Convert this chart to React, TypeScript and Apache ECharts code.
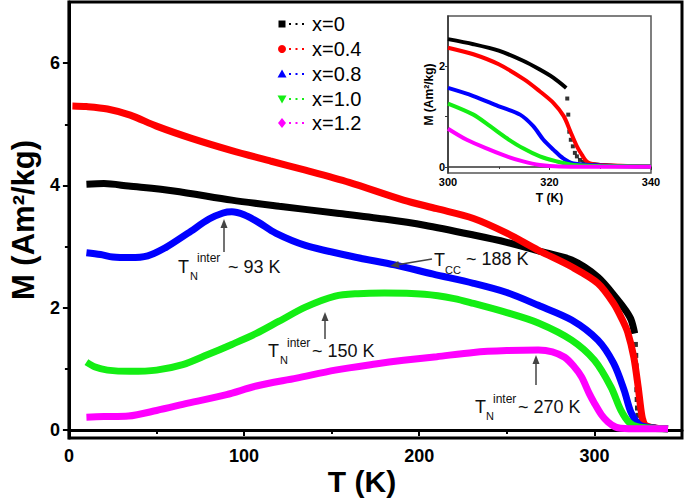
import React, { useEffect, useRef } from 'react';
import * as echarts from 'echarts';

const seriesNames = ['x=0', 'x=0.4', 'x=0.8', 'x=1.0', 'x=1.2'];
const seriesColors = ['#000000', '#ff0000', '#0000ff', '#14ee14', '#ff00ff'];

// Main panel tick values
const mainXTicks = [0, 100, 200, 300];
const mainXMinor = [50, 150, 250];
const mainYTicks = [0, 2, 4, 6];
const mainYMinor = [1, 3, 5];
const insetYTicks = [0, 2];
const insetYAllTicks = [0, 1, 2];

// Main panel data: [T (K), M (Am2/kg)]
const mainBlack = [[10, 4.02], [20, 4.03], [34, 3.99], [60, 3.91], [93, 3.76], [120, 3.66], [152, 3.55], [180, 3.45], [203, 3.35], [231, 3.19], [250, 3.07], [268, 2.93], [287, 2.78], [302, 2.5], [313, 2.14], [318, 1.95], [321, 1.8], [323, 1.58]];
const mainBlackDrop = [[323.4, 1.4], [323.6, 1.22], [323.8, 1.05], [324, 0.86], [324.2, 0.66], [324.4, 0.5], [324.6, 0.36], [324.8, 0.24], [325.2, 0.14], [325.8, 0.09]];
const mainBlackTail = [[326.5, 0.07], [330, 0.05], [335, 0.03], [342, 0.02]];
const mainRed = [[2, 5.3], [10, 5.29], [22, 5.25], [35, 5.15], [50, 4.97], [70, 4.77], [93, 4.57], [115, 4.4], [135, 4.25], [160, 4.05], [191, 3.76], [210, 3.62], [231, 3.46], [250, 3.22], [268, 2.94], [287, 2.67], [302, 2.4], [311, 2.07], [316, 1.8], [319, 1.6], [322.5, 1.19], [325, 0.7], [326.5, 0.35], [327.5, 0.18], [329, 0.08], [333, 0.04], [342, 0.02]];
const mainBlue = [[10, 2.9], [18, 2.87], [25, 2.83], [35, 2.82], [45, 2.85], [55, 2.98], [68, 3.22], [80, 3.45], [88, 3.55], [93, 3.57], [100, 3.52], [108, 3.4], [118, 3.22], [135, 3.02], [163, 2.83], [186, 2.7], [208, 2.55], [231, 2.4], [250, 2.25], [268, 2.04], [287, 1.8], [302, 1.47], [311, 1.09], [317, 0.65], [321, 0.28], [326, 0.08], [332, 0.04], [342, 0.02]];
const mainGreen = [[10, 1.11], [15, 1.03], [22, 0.98], [35, 0.96], [50, 0.98], [65, 1.07], [79, 1.23], [93, 1.4], [107, 1.58], [120, 1.78], [135, 2.01], [152, 2.19], [165, 2.23], [180, 2.24], [203, 2.22], [220, 2.15], [231, 2.07], [250, 1.92], [268, 1.75], [287, 1.47], [300, 1.14], [309.5, 0.7], [315, 0.33], [320, 0.12], [325, 0.05], [333, 0.03], [342, 0.02]];
const mainMagenta = [[10, 0.21], [20, 0.22], [34, 0.23], [50, 0.32], [68, 0.44], [90, 0.58], [107, 0.72], [130, 0.85], [152, 0.98], [175, 1.08], [191, 1.14], [210, 1.2], [231, 1.27], [250, 1.3], [268, 1.31], [276, 1.28], [283, 1.19], [288, 1.05], [292.6, 0.87], [297, 0.6], [300, 0.44], [304, 0.25], [307.8, 0.13], [312, 0.05], [315, 0.03], [325, 0.02], [342, 0.02]];

// Inset data (300-340 K)
const insetBlack = [[300, 2.54], [305, 2.44], [310, 2.31], [314.8, 2.11], [318, 1.94], [320.8, 1.77], [323.3, 1.57]];
const insetBlackDrop = [[323.5, 1.36], [323.7, 1.04], [323.9, 0.7], [324.2, 0.54], [324.6, 0.41], [325, 0.28], [325.4, 0.21], [326, 0.14], [326.7, 0.1]];
const insetBlackTail = [[327.2, 0.08], [330, 0.05], [335, 0.02], [340, 0.01]];
const insetRed = [[300, 2.37], [305, 2.24], [310, 2.04], [315, 1.74], [318, 1.51], [320.8, 1.27], [322.8, 1.01], [324.1, 0.71], [325.4, 0.41], [326.4, 0.24], [327.2, 0.12], [328, 0.07], [330, 0.04], [340, 0.01]];
const insetBlue = [[300, 1.57], [305, 1.41], [309.9, 1.21], [314.2, 1.04], [316.8, 0.81], [318.8, 0.54], [320.8, 0.34], [322.7, 0.17], [324.7, 0.07], [330, 0.03], [340, 0.01]];
const insetGreen = [[300, 1.26], [305, 1.04], [308.3, 0.81], [311.6, 0.57], [314.8, 0.37], [318.1, 0.21], [321.4, 0.11], [324.7, 0.04], [330, 0.02], [340, 0.01]];
const insetMagenta = [[300, 0.76], [303.7, 0.54], [308.3, 0.34], [311.6, 0.21], [314.8, 0.11], [318.1, 0.04], [322, 0.01], [330, 0.005], [340, 0.005]];

const mainData = [mainBlack, mainRed, mainBlue, mainGreen, mainMagenta];
const insetData = [insetBlack, insetRed, insetBlue, insetGreen, insetMagenta];

const FONT = '"Liberation Sans", Arial, sans-serif';

function arrow(x1: number, y1: number, x2: number, y2: number) {
  const dx = x2 - x1, dy = y2 - y1;
  const L = Math.hypot(dx, dy);
  const ux = dx / L, uy = dy / L;
  const hl = 9, hw = 3.5;
  const bx = x2 - ux * hl, by = y2 - uy * hl;
  const px = -uy, py = ux;
  return [
    { type: 'line', z: 100, shape: { x1, y1, x2: bx, y2: by }, style: { stroke: '#444', lineWidth: 1.5 } },
    { type: 'polygon', z: 100, shape: { points: [[x2, y2], [bx + px * hw, by + py * hw], [bx - px * hw, by - py * hw]] }, style: { fill: '#444' } },
  ];
}

function txt(text: string, x: number, y: number, size: number, weight = 'normal', color = '#111') {
  return {
    type: 'text', z: 100, x, y,
    style: { text, fill: color, font: `${weight} ${size}px ${FONT}`, align: 'left', verticalAlign: 'middle' },
  };
}

function legendSymbol(i: number, y: number) {
  const cx = 282;
  const c = seriesColors[i];
  if (i === 0) return { type: 'rect', z: 100, shape: { x: cx - 3.5, y: y - 3.5, width: 7, height: 7 }, style: { fill: c } };
  if (i === 1) return { type: 'circle', z: 100, shape: { cx, cy: y, r: 4 }, style: { fill: c } };
  if (i === 2) return { type: 'polygon', z: 100, shape: { points: [[cx, y - 4.5], [cx - 4.5, y + 3.5], [cx + 4.5, y + 3.5]] }, style: { fill: c } };
  if (i === 3) return { type: 'polygon', z: 100, shape: { points: [[cx - 4.5, y - 3.5], [cx + 4.5, y - 3.5], [cx, y + 4.5]] }, style: { fill: c } };
  return { type: 'polygon', z: 100, shape: { points: [[cx, y - 5], [cx + 4, y], [cx, y + 5], [cx - 4, y]] }, style: { fill: c } };
}

export default function App() {
  const ref = useRef<HTMLDivElement>(null);
  useEffect(() => {
    if (!ref.current) return;
    const chart = echarts.init(ref.current, undefined, { renderer: 'svg' });

    const legendY = [24, 49, 74, 99, 123];
    const graphics: any[] = [];
    seriesNames.forEach((name, i) => {
      const y = legendY[i];
      graphics.push(legendSymbol(i, y));
      graphics.push({ type: 'line', z: 100, shape: { x1: 289, y1: y, x2: 306, y2: y }, style: { stroke: seriesColors[i], lineWidth: 2, lineDash: [2, 4.5] } });
      graphics.push({ type: 'text', z: 100, x: 312, y, style: { text: name, fill: '#000', font: `20px ${FONT}`, align: 'left', verticalAlign: 'middle' } });
    });

    // main x-axis title
    graphics.push({ type: 'text', z: 100, x: 362, y: 481, style: { text: 'T (K)', fill: '#000', font: `bold 30px ${FONT}`, align: 'center', verticalAlign: 'middle' } });

    // annotations
    graphics.push(...arrow(224, 252, 224, 219));
    graphics.push(txt('T', 178, 267, 18), txt('N', 190, 276, 11), txt('inter', 197, 258, 12), txt('~ 93 K', 228, 267, 18));
    graphics.push(...arrow(432, 259, 390, 266));
    graphics.push(txt('T', 434, 260, 18), txt('CC', 445, 270, 11), txt('~ 188 K', 466, 259, 18));
    graphics.push(...arrow(325, 339, 325, 312));
    graphics.push(txt('T', 268, 351, 18), txt('N', 280, 360, 11), txt('inter', 287, 343, 12), txt('~ 150 K', 312, 351, 18));
    graphics.push(...arrow(536, 385, 536, 355));
    graphics.push(txt('T', 475, 407, 18), txt('N', 486, 416, 11), txt('inter', 493, 399, 12), txt('~ 270 K', 518, 407, 18));

    const axisLabelMain = { color: '#000', fontWeight: 'bold', fontSize: 18, fontFamily: FONT };
    const series: any[] = [];
    mainData.forEach((d, i) => {
      series.push({
        type: 'line', name: seriesNames[i], xAxisIndex: 0, yAxisIndex: 0, data: d,
        symbol: 'none', showSymbol: false, smooth: 0.3,
        lineStyle: { width: 7, color: seriesColors[i] }, z: 2 + i,
      });
    });
    series.push({ type: 'scatter', xAxisIndex: 0, yAxisIndex: 0, data: mainBlackDrop, symbol: 'rect', symbolSize: 5, itemStyle: { color: '#000' }, z: 2 });
    series.push({ type: 'line', xAxisIndex: 0, yAxisIndex: 0, data: mainBlackTail, symbol: 'none', lineStyle: { width: 7, color: '#000' }, z: 2 });

    insetData.forEach((d, i) => {
      series.push({
        type: 'line', name: seriesNames[i] + ' inset', xAxisIndex: 2, yAxisIndex: 2, data: d,
        symbol: 'none', showSymbol: false, smooth: 0.3,
        lineStyle: { width: 4, color: seriesColors[i] }, z: 2 + i,
      });
    });
    series.push({ type: 'scatter', xAxisIndex: 2, yAxisIndex: 2, data: insetBlackDrop, symbol: 'rect', symbolSize: 4, itemStyle: { color: '#000' }, z: 2 });
    series.push({ type: 'line', xAxisIndex: 2, yAxisIndex: 2, data: insetBlackTail, symbol: 'none', lineStyle: { width: 3, color: '#000' }, z: 2 });

    chart.setOption({
      animation: false,
      backgroundColor: '#fff',
      grid: [
        { left: 60, top: 2, right: 3, bottom: 60, show: true, borderColor: '#000', borderWidth: 3 },
        { left: 448, top: 16, right: 34, bottom: 325, show: true, borderColor: '#555', borderWidth: 1.5, backgroundColor: '#fff' },
      ],
      xAxis: [
        {
          type: 'value', gridIndex: 0, min: 0, max: 350,
          axisLine: { show: true, lineStyle: { color: '#000', width: 3 } },
          axisTick: { show: true, customValues: mainXTicks, length: 6, lineStyle: { color: '#000', width: 2 } },
          axisLabel: { ...axisLabelMain, customValues: mainXTicks, margin: 9 },
          splitLine: { show: false },
        },
        {
          type: 'value', gridIndex: 0, min: 0, max: 350, position: 'bottom',
          axisLine: { show: false },
          axisTick: { show: true, customValues: mainXMinor, length: 4, lineStyle: { color: '#000', width: 2 } },
          axisLabel: { show: false },
          splitLine: { show: false },
        },
        {
          type: 'value', gridIndex: 1, min: 300, max: 340, interval: 20,
          name: 'T (K)', nameLocation: 'middle', nameGap: 19,
          nameTextStyle: { color: '#000', fontWeight: 'bold', fontSize: 12, fontFamily: FONT },
          axisLine: { show: true, lineStyle: { color: '#333', width: 1.5 } },
          axisTick: { show: true, length: 3, lineStyle: { color: '#333', width: 1 } },
          minorTick: { show: true, splitNumber: 2, length: 2, lineStyle: { color: '#333' } },
          axisLabel: { color: '#000', fontWeight: 'bold', fontSize: 11, fontFamily: FONT, margin: 3 },
          splitLine: { show: false },
        },
      ],
      yAxis: [
        {
          type: 'value', gridIndex: 0, min: -0.13, max: 7,
          name: 'M (Am²/kg)', nameLocation: 'middle', nameGap: 24,
          nameTextStyle: { color: '#000', fontWeight: 'bold', fontSize: 31, fontFamily: FONT },
          axisLine: { show: true, lineStyle: { color: '#000', width: 3 } },
          axisTick: { show: true, customValues: mainYTicks, length: 6, lineStyle: { color: '#000', width: 2 } },
          axisLabel: { ...axisLabelMain, customValues: mainYTicks, margin: 9 },
          splitLine: { show: false },
        },
        {
          type: 'value', gridIndex: 0, min: -0.13, max: 7, position: 'left',
          axisLine: { show: false },
          axisTick: { show: true, customValues: mainYMinor, length: 4, lineStyle: { color: '#000', width: 2 } },
          axisLabel: { show: false },
          splitLine: { show: false },
        },
        {
          type: 'value', gridIndex: 1, min: -0.12, max: 3,
          name: 'M (Am²/kg)', nameLocation: 'middle', nameGap: 12,
          nameTextStyle: { color: '#000', fontWeight: 'bold', fontSize: 12, fontFamily: FONT },
          axisLine: { show: true, lineStyle: { color: '#333', width: 1.5 } },
          axisTick: { show: true, customValues: insetYAllTicks, length: 3, lineStyle: { color: '#333', width: 1 } },
          axisLabel: { color: '#000', fontWeight: 'bold', fontSize: 11, fontFamily: FONT, margin: 3, customValues: insetYTicks },
          splitLine: { show: false },
        },
      ],
      series,
      graphic: graphics,
    });

    return () => chart.dispose();
  }, []);

  return <div ref={ref} style={{ position: 'fixed', left: 0, top: 0, width: 685, height: 498 }} />;
}
